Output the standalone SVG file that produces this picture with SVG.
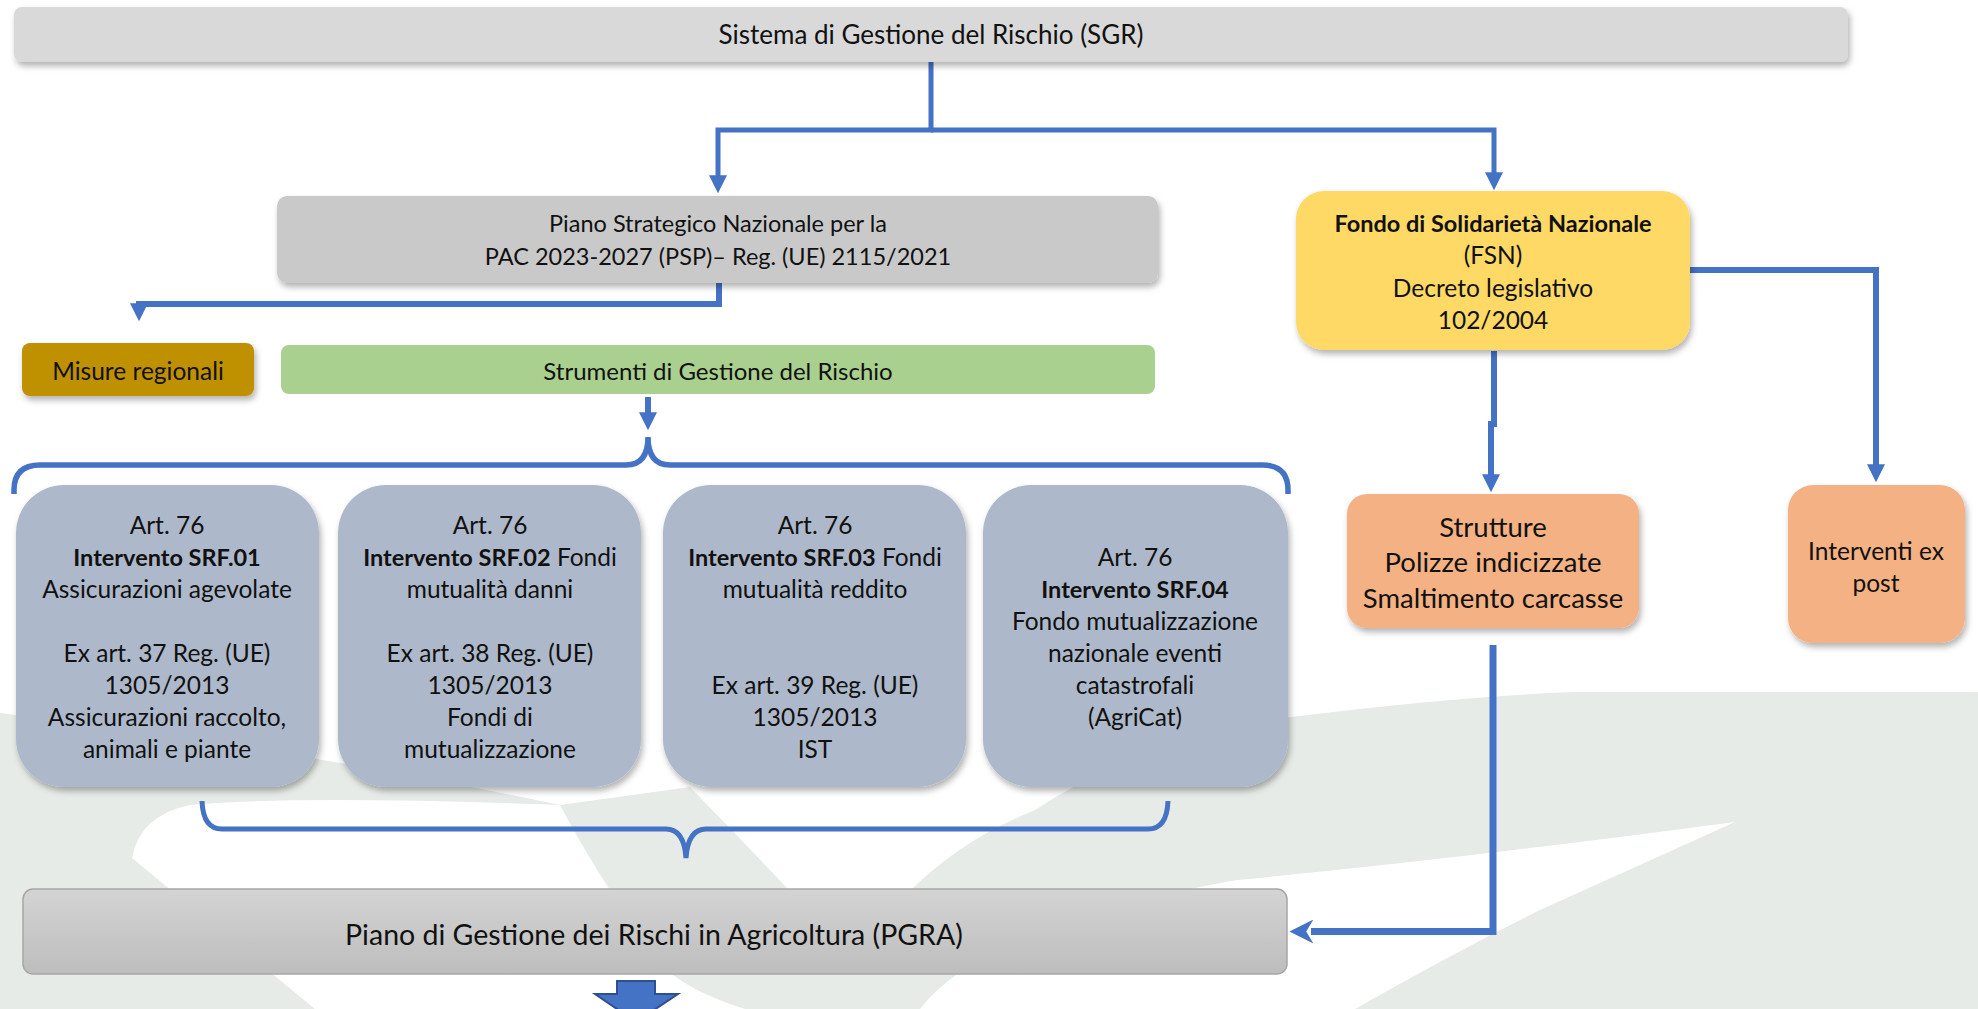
<svg xmlns="http://www.w3.org/2000/svg" width="1978" height="1009" viewBox="0 0 1978 1009">
<defs>
<style>
text{font-family:Lato,"Liberation Sans",sans-serif;fill:#111;text-anchor:middle}
.t25{font-size:24.5px}
.b{font-weight:bold;font-size:23.5px}
.conn{fill:none;stroke:#4472c4;stroke-width:5}
.wm{fill:#e6ebe7}
</style>
<filter id="sh" x="-10%" y="-10%" width="120%" height="130%">
<feDropShadow dx="2" dy="4" stdDeviation="3" flood-color="#000" flood-opacity="0.3"/>
</filter>
<linearGradient id="pg" x1="0" y1="0" x2="0" y2="1">
<stop offset="0" stop-color="#d4d4d4"/>
<stop offset="1" stop-color="#bdbdbd"/>
</linearGradient>
<marker id="ah" viewBox="0 0 10 10" refX="1" refY="5" markerUnits="userSpaceOnUse" markerWidth="18" markerHeight="18" orient="auto">
<path d="M0,0 L10,5 L0,10 z" fill="#4472c4"/>
</marker>
<marker id="ahb" viewBox="0 0 10 10" refX="1" refY="5" markerUnits="userSpaceOnUse" markerWidth="25" markerHeight="24" orient="auto">
<path d="M0,0 L10,5 L0,10 L3,5 z" fill="#4472c4"/>
</marker>
</defs>
<rect width="1978" height="1009" fill="#fff"/>

<g id="watermark">
<path class="wm" d="M0,713 Q300,750 560,805 Q300,795 190,805 Q140,815 132,858 L315,1009 L0,1009 Z"/>
<path class="wm" d="M560,805 L690,787 Q800,900 900,1009 L745,1009 Q700,995 673,975 Q610,900 560,805 Z"/>
<path class="wm" d="M830,1009 Q850,940 908,893 Q960,840 1035,810 Q1150,735 1291,717 Q1450,697 1573,692 L1978,692 L1978,1009 L1355,1009 Q1450,955 1540,910 Q1640,865 1735,822 Q1450,860 1237,880 Q1120,900 1020,940 Q950,970 920,1009 Z"/>
</g>

<g id="connectors">
<path class="conn" d="M931,62 V130 H718 V177" marker-end="url(#ah)"/>
<path class="conn" d="M931,130 H1494 V174" marker-end="url(#ah)"/>
<path class="conn" style="stroke-width:6" d="M719,283 V304 H139 V305" marker-end="url(#ah)"/>
<path class="conn" style="stroke-width:6" d="M648,397 V414" marker-end="url(#ah)"/>
<path class="conn" style="stroke-width:5.5" d="M14,494 V490 Q14,465 40,465 H626 Q648,465 648,437 Q648,465 670,465 H1262 Q1288,465 1288,490 V494"/>
<path class="conn" d="M202,801 Q203,829 222,829 H666 Q684,829 686,858 Q688,829 706,829 H1148 Q1167,829 1168,801"/>
<path class="conn" style="stroke-width:6" d="M1494,351 V424 H1491 V476" marker-end="url(#ah)"/>
<path class="conn" style="stroke-width:6" d="M1690,270 H1876 V466" marker-end="url(#ah)"/>
<path class="conn" style="stroke-width:7" d="M1493,645 V931.5 H1311" marker-end="url(#ahb)"/>
<path d="M617,981 H655 V994 H678 L636,1022 L595,994 H617 Z" fill="#4472c4" stroke="#2f4f8f" stroke-width="2"/>
</g>

<g id="sgr">
<rect x="14" y="7" width="1834" height="55" rx="8" fill="#d9d9d9" filter="url(#sh)"/>
<text x="931" y="44" style="font-size:26px">Sistema di Gestione del Rischio (SGR)</text>
</g>

<g id="psp">
<rect x="277" y="196" width="881" height="87" rx="10" fill="#c9c9c9" filter="url(#sh)"/>
<text x="718" y="232" style="font-size:23.5px">Piano Strategico Nazionale per la</text>
<text x="718" y="265" style="font-size:23.5px">PAC 2023-2027 (PSP)– Reg. (UE) 2115/2021</text>
</g>

<g id="fsn">
<rect x="1296" y="191" width="394" height="159" rx="28" fill="#ffd966" filter="url(#sh)"/>
<text x="1493" y="232" class="b">Fondo di Solidarietà Nazionale</text>
<text x="1493" y="264" class="t25">(FSN)</text>
<text x="1493" y="297" class="t25">Decreto legislativo</text>
<text x="1493" y="329" class="t25">102/2004</text>
</g>

<g id="misure">
<rect x="22" y="343" width="232" height="53" rx="8" fill="#bf9000" filter="url(#sh)"/>
<text x="138" y="380" class="t25">Misure regionali</text>
</g>

<g id="strumenti">
<rect x="281" y="345" width="874" height="49" rx="8" fill="#a9d08e"/>
<text x="718" y="380" style="font-size:24px">Strumenti di Gestione del Rischio</text>
</g>

<g id="srf01">
<rect x="16" y="485" width="303" height="302" rx="48" fill="#adb9ca" filter="url(#sh)"/>
<text x="167" y="534" class="t25">Art. 76</text>
<text x="167" y="566" class="b">Intervento SRF.01</text>
<text x="167" y="598" class="t25">Assicurazioni agevolate</text>
<text x="167" y="662" class="t25">Ex art. 37 Reg. (UE)</text>
<text x="167" y="694" class="t25">1305/2013</text>
<text x="167" y="726" class="t25">Assicurazioni raccolto,</text>
<text x="167" y="758" class="t25">animali e piante</text>
</g>

<g id="srf02">
<rect x="338" y="485" width="303" height="302" rx="48" fill="#adb9ca" filter="url(#sh)"/>
<text x="490" y="534" class="t25">Art. 76</text>
<text x="490" y="566" class="t25"><tspan class="b">Intervento SRF.02</tspan> Fondi</text>
<text x="490" y="598" class="t25">mutualità danni</text>
<text x="490" y="662" class="t25">Ex art. 38 Reg. (UE)</text>
<text x="490" y="694" class="t25">1305/2013</text>
<text x="490" y="726" class="t25">Fondi di</text>
<text x="490" y="758" class="t25">mutualizzazione</text>
</g>

<g id="srf03">
<rect x="663" y="485" width="303" height="302" rx="48" fill="#adb9ca" filter="url(#sh)"/>
<text x="815" y="534" class="t25">Art. 76</text>
<text x="815" y="566" class="t25"><tspan class="b">Intervento SRF.03</tspan> Fondi</text>
<text x="815" y="598" class="t25">mutualità reddito</text>
<text x="815" y="694" class="t25">Ex art. 39 Reg. (UE)</text>
<text x="815" y="726" class="t25">1305/2013</text>
<text x="815" y="758" class="t25">IST</text>
</g>

<g id="srf04">
<rect x="983" y="485" width="305" height="302" rx="48" fill="#adb9ca" filter="url(#sh)"/>
<text x="1135" y="566" class="t25">Art. 76</text>
<text x="1135" y="598" class="b">Intervento SRF.04</text>
<text x="1135" y="630" class="t25">Fondo mutualizzazione</text>
<text x="1135" y="662" class="t25">nazionale eventi</text>
<text x="1135" y="694" class="t25">catastrofali</text>
<text x="1135" y="726" class="t25">(AgriCat)</text>
</g>

<g id="strutture">
<rect x="1347" y="494" width="292" height="134" rx="20" fill="#f4b183" filter="url(#sh)"/>
<text x="1493" y="537" style="font-size:27.5px">Strutture</text>
<text x="1493" y="572" style="font-size:27.5px">Polizze indicizzate</text>
<text x="1493" y="608" style="font-size:27.5px">Smaltimento carcasse</text>
</g>

<g id="expost">
<rect x="1788" y="485" width="177" height="158" rx="25" fill="#f4b183" filter="url(#sh)"/>
<text x="1876" y="560" class="t25">Interventi ex</text>
<text x="1876" y="592" class="t25">post</text>
</g>

<g id="pgra">
<rect x="23" y="889" width="1264" height="85" rx="10" fill="url(#pg)" stroke="#a6a6a6" stroke-width="1.5"/>
<text x="654" y="945" style="font-size:28.5px">Piano di Gestione dei Rischi in Agricoltura (PGRA)</text>
</g>
</svg>
